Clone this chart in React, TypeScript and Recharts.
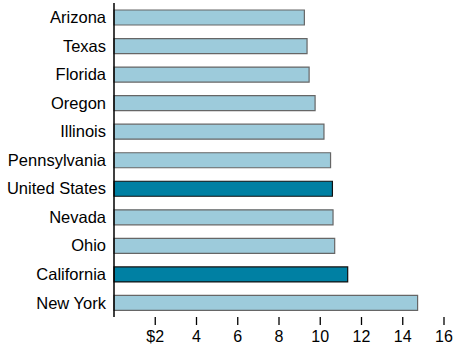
import { Bar, BarChart, Cell, XAxis, YAxis } from "recharts";

const STATES = [
  "Arizona",
  "Texas",
  "Florida",
  "Oregon",
  "Illinois",
  "Pennsylvania",
  "United States",
  "Nevada",
  "Ohio",
  "California",
  "New York",
];
const WAGES = [9.23, 9.36, 9.46, 9.75, 10.18, 10.5, 10.59, 10.62, 10.7, 11.33, 14.72];
const HIGHLIGHTED = ["United States", "California"];
const X_TICKS = [2, 4, 6, 8, 10, 12, 14, 16];

const LIGHT = "#9dcbdb";
const DARK = "#0080a3";
const FONT = "'Liberation Sans', Arial, Helvetica, sans-serif";

const data = STATES.map((name, i) => ({ name, value: WAGES[i] }));

export default function App() {
  return (
    <div style={{ position: "absolute", left: 0, top: 0, background: "#fff" }}>
      <BarChart
        width={463}
        height={354}
        data={data}
        layout="vertical"
        margin={{ top: 3, right: 19, bottom: 7, left: 0 }}
        style={{ fontFamily: FONT }}
      >
        <XAxis
          type="number"
          domain={[0, 16]}
          ticks={X_TICKS}
          tickFormatter={(v) => (v === 2 ? "$2" : String(v))}
          axisLine={false}
          tickLine={{ stroke: "#000", strokeWidth: 1.3 }}
          tickSize={8}
          tickMargin={6}
          tick={{ fill: "#000", fontSize: 16 }}
          height={30}
        />
        <YAxis
          type="category"
          dataKey="name"
          width={114}
          axisLine={{ stroke: "#000", strokeWidth: 1.5 }}
          tickLine={false}
          tick={{ fill: "#000", fontSize: 16.5 }}
          interval={0}
        />
        <Bar dataKey="value" barSize={15} isAnimationActive={false}>
          {data.map((d) => {
            const hi = HIGHLIGHTED.includes(d.name);
            return (
              <Cell
                key={d.name}
                fill={hi ? DARK : LIGHT}
                stroke={hi ? "#111" : "#666"}
                strokeWidth={1.2}
              />
            );
          })}
        </Bar>
      </BarChart>
    </div>
  );
}
